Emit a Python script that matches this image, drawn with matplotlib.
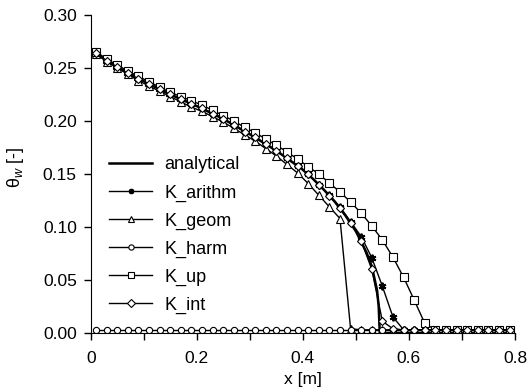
import matplotlib
matplotlib.use('Agg')
import matplotlib.pyplot as plt
from matplotlib.ticker import MultipleLocator

plt.rcParams['font.family'] = ['Liberation Sans', 'DejaVu Sans']
plt.rcParams['mathtext.fontset'] = 'custom'
plt.rcParams['mathtext.rm'] = 'Liberation Sans'
plt.rcParams['mathtext.it'] = 'Liberation Sans:italic'

# cell centres of the numerical grid
x_num = [0.01, 0.03, 0.05, 0.07, 0.09, 0.11, 0.13, 0.15, 0.17, 0.19,
         0.21, 0.23, 0.25, 0.27, 0.29, 0.31, 0.33, 0.35, 0.37, 0.39,
         0.41, 0.43, 0.45, 0.47, 0.49, 0.51, 0.53, 0.55, 0.57, 0.59,
         0.61, 0.63, 0.65, 0.67, 0.69, 0.71, 0.73, 0.75, 0.77, 0.79]

# analytical solution
x_an = [0.0, 0.05, 0.10, 0.15, 0.20, 0.25, 0.30, 0.35, 0.40, 0.42,
        0.44, 0.46, 0.48, 0.50, 0.52, 0.53, 0.54, 0.543, 0.545, 0.8]
th_an = [0.268, 0.251, 0.2375, 0.225, 0.214, 0.202, 0.1875, 0.172, 0.154, 0.145,
         0.135, 0.124, 0.111, 0.096, 0.076, 0.063, 0.040, 0.025, 0.0, 0.0]

k_arithm = [0.264, 0.257, 0.251, 0.245, 0.240, 0.235, 0.230, 0.225, 0.221, 0.216,
            0.212, 0.207, 0.202, 0.196, 0.190, 0.185, 0.178, 0.172, 0.165, 0.158,
            0.150, 0.140, 0.130, 0.119, 0.105, 0.091, 0.071, 0.044, 0.015, 0.003,
            0.003, 0.003, 0.003, 0.003, 0.003, 0.003, 0.003, 0.003, 0.003, 0.003]

k_geom = [0.263, 0.256, 0.250, 0.244, 0.238, 0.233, 0.228, 0.223, 0.218, 0.213,
          0.209, 0.204, 0.199, 0.193, 0.187, 0.181, 0.174, 0.167, 0.159, 0.151,
          0.141, 0.130, 0.119, 0.108, 0.004, 0.003, 0.003, 0.003, 0.003, 0.003,
          0.003, 0.003, 0.003, 0.003, 0.003, 0.003, 0.003, 0.003, 0.003, 0.003]

k_harm = [0.003] * 40

k_up = [0.265, 0.258, 0.253, 0.247, 0.242, 0.237, 0.232, 0.227, 0.223, 0.219,
        0.215, 0.210, 0.205, 0.200, 0.194, 0.189, 0.183, 0.177, 0.171, 0.164,
        0.157, 0.150, 0.1415, 0.133, 0.1236, 0.113, 0.101, 0.0877, 0.0714, 0.0525,
        0.031, 0.009, 0.003, 0.003, 0.003, 0.003, 0.003, 0.003, 0.003, 0.003]

k_int = [0.264, 0.257, 0.251, 0.245, 0.240, 0.235, 0.230, 0.225, 0.221, 0.216,
         0.212, 0.207, 0.202, 0.196, 0.190, 0.185, 0.178, 0.172, 0.165, 0.158,
         0.150, 0.1396, 0.1295, 0.1176, 0.104, 0.087, 0.060, 0.011, 0.004, 0.003,
         0.003, 0.003, 0.003, 0.003, 0.003, 0.003, 0.003, 0.003, 0.003, 0.003]

fig = plt.figure(figsize=(5.29, 3.89), dpi=100)
ax = fig.add_axes([0.1715, 0.144, 0.802, 0.8175])

mk = dict(color='black', markerfacecolor='white', markeredgecolor='black',
          linewidth=1.0, markeredgewidth=0.8)

ax.plot(x_an, th_an, color='black', linewidth=1.8, label='analytical')
ax.plot(x_num, k_arithm, color='black', linewidth=1.0, marker=(6, 2, 0),
        markersize=5.5, markeredgewidth=1.4, label='K_arithm')
ax.plot(x_num, k_geom, marker='^', markersize=6, label='K_geom', **mk)
ax.plot(x_num, k_harm, marker='o', markersize=4.5, label='K_harm', **mk)
ax.plot(x_num, k_up, marker='s', markersize=5.5, label='K_up', **mk)
ax.plot(x_num, k_int, marker='D', markersize=4.5, label='K_int', **mk)

ax.set_xlim(0, 0.8)
ax.set_ylim(0, 0.30)
ax.xaxis.set_major_locator(MultipleLocator(0.2))
ax.xaxis.set_minor_locator(MultipleLocator(0.1))
ax.yaxis.set_major_locator(MultipleLocator(0.05))
ax.xaxis.set_major_formatter(plt.FuncFormatter(lambda v, p: '0' if v == 0 else f'{v:.1f}'))
ax.yaxis.set_major_formatter(plt.FuncFormatter(lambda v, p: f'{v:.2f}'))

ax.spines['top'].set_visible(False)
ax.spines['right'].set_visible(False)
ax.tick_params(axis='both', direction='out', length=5, width=1, labelsize=12.5)
ax.tick_params(axis='y', pad=5)
ax.tick_params(axis='x', pad=8)
ax.tick_params(axis='x', which='minor', direction='out', length=5, width=1)

ax.set_xlabel('x [m]', fontsize=12.5, labelpad=4)
ax.set_ylabel(r'$\mathrm{\theta}_w$ [-]', fontsize=13)
ax.yaxis.set_label_coords(-0.152, 0.52)

leg = ax.legend(loc='upper left', bbox_to_anchor=(0.043, 0.555), frameon=False,
                fontsize=13, handlelength=2.4, handletextpad=0.65,
                labelspacing=0.6, borderpad=0, borderaxespad=0)
for h in leg.legend_handles:
    h.set_markersize(3.8)

fig.savefig('out.png', dpi=100)
